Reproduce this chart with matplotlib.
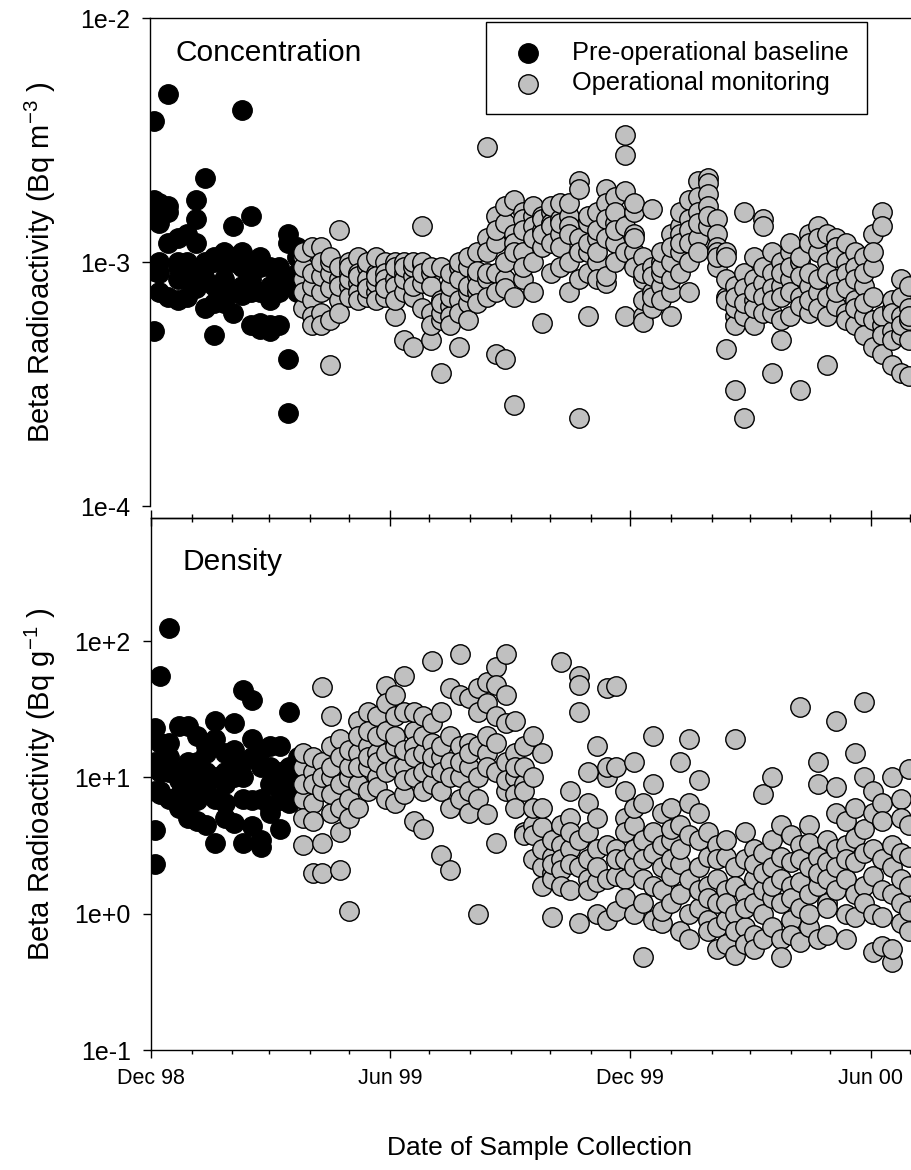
import numpy as np
import matplotlib
matplotlib.use("Agg")
import matplotlib.pyplot as plt
import matplotlib.dates as mdates
from matplotlib.ticker import FixedLocator, FuncFormatter, NullLocator, NullFormatter
from datetime import datetime

plt.rcParams['font.family'] = ['Liberation Sans', 'DejaVu Sans']
plt.rcParams['mathtext.fontset'] = 'custom'
plt.rcParams['mathtext.rm'] = 'Liberation Sans'
plt.rcParams['mathtext.it'] = 'Liberation Sans:italic'

# ---------------- data ----------------
# days after 1 Dec 1998
pre_day = [3, 3, 3, 3, 3, 7, 7, 7, 7, 7, 14, 14, 14, 14, 14, 21, 21, 21, 21, 21,
           28, 28, 28, 28, 28, 35, 35, 35, 35, 35, 42, 42, 42, 42, 42, 49, 49, 49, 49, 49,
           56, 56, 56, 56, 56, 63, 63, 63, 63, 63, 70, 70, 70, 70, 70, 77, 77, 77, 77, 77,
           84, 84, 84, 84, 84, 91, 91, 91, 91, 91, 98, 98, 98, 98, 98, 105, 105, 105, 105, 105,
           112, 112, 112, 112, 112]
# concentration, mBq m^-3
pre_conc_mBq = [0.52, 0.92, 3.8, 1.8, 1.5, 1.45, 1.75, 0.75, 1.0, 0.9,
                4.9, 1.6, 1.7, 0.72, 1.2, 1.25, 1.0, 0.95, 0.7, 0.85,
                1.0, 1.3, 0.72, 0.85, 0.95, 1.8, 1.5, 1.2, 0.9, 0.78,
                2.2, 1.0, 0.85, 0.65, 0.95, 0.5, 1.0, 0.68, 1.05, 0.8,
                1.0, 0.85, 1.1, 0.68, 0.72, 1.4, 1.0, 0.75, 0.62, 1.05,
                4.2, 1.1, 0.95, 0.8, 0.73, 1.55, 1.0, 0.55, 0.75, 0.85,
                1.05, 0.56, 0.53, 0.75, 0.95, 0.55, 0.8, 0.95, 0.7, 0.52,
                0.9, 0.55, 0.75, 0.78, 0.95, 1.3, 0.4, 0.24, 0.8, 1.2,
                1.15, 1.05, 0.85, 0.75, 0.9]
# density, Bq g^-1
pre_dens = [2.3, 4.1, 7.9, 23, 13, 55, 11, 8, 7.5, 18,
            125, 18, 11, 7, 14, 24, 9.5, 11, 7.4, 6,
            13, 6, 9, 5, 24, 20, 10, 4.8, 13, 6.8,
            17, 4.5, 11, 8, 15, 26, 7, 10, 3.3, 19,
            11, 15, 6.5, 9, 5, 25, 13, 4.6, 10, 16,
            10, 44, 13, 3.3, 7, 37, 19, 14, 6.8, 4.4,
            3.1, 3.5, 12, 16, 7, 5.5, 17, 9, 6, 12,
            4.2, 8, 11, 17, 6.8, 30, 12, 9.5, 6.5, 7.5,
            11, 9, 12, 14, 10]

op_dates = [116, 123, 130, 137, 144, 151, 158, 165, 172, 179, 186, 193, 200, 207, 214,
            221, 228, 235, 242, 249, 256, 263, 270, 277, 284, 291, 298, 305, 312, 319,
            326, 333, 340, 347, 354, 361, 368, 375, 382, 389, 396, 403, 410, 417, 424,
            431, 438, 445, 452, 459, 466, 473, 480, 487, 494, 501, 508, 515, 522, 529,
            536, 543, 550, 557, 564, 571, 577]
op_conc_mBq = [
    [1.05, 0.85, 0.65, 0.95, 0.75, 1.1], [0.7, 0.8, 1.15, 0.6, 0.9, 0.55],
    [1.15, 0.62, 0.55, 0.75, 0.88, 1.0], [0.78, 0.9, 1.0, 0.58, 0.38, 1.05],
    [1.35, 0.7, 0.85, 0.95, 0.62, 0.8], [0.9, 0.8, 0.72, 1.0, 0.85, 0.95],
    [0.82, 0.75, 1.05, 0.9, 0.7, 0.88], [0.8, 0.95, 0.85, 0.72, 1.0, 0.78],
    [0.75, 0.82, 0.9, 1.05, 0.88, 0.7], [0.8, 0.72, 1.0, 0.9, 0.85, 0.78],
    [1.0, 0.85, 0.8, 0.6, 0.95, 0.7], [0.9, 1.0, 0.75, 0.48, 0.85, 0.95],
    [0.45, 0.72, 0.88, 0.95, 0.8, 1.0], [0.98, 1.0, 0.65, 0.82, 1.4, 0.9],
    [0.9, 0.62, 0.48, 0.8, 0.95, 0.55], [0.58, 0.7, 0.62, 0.68, 0.95, 0.35],
    [0.66, 0.6, 0.72, 0.8, 0.55, 0.9], [0.95, 0.7, 0.62, 0.45, 0.85, 1.0],
    [0.68, 0.75, 0.58, 0.95, 0.8, 1.05], [0.75, 0.88, 1.1, 0.8, 0.68, 0.92],
    [1.25, 0.85, 0.9, 2.95, 1.1, 0.72], [1.55, 1.2, 0.42, 0.9, 0.75, 1.35],
    [1.45, 1.7, 0.4, 0.85, 1.0, 0.78], [0.26, 1.3, 1.8, 1.2, 0.72, 1.1],
    [1.6, 1.5, 1.35, 1.1, 0.85, 0.95], [1.55, 1.7, 1.4, 1.25, 1.0, 0.75],
    [1.55, 1.35, 1.5, 0.56, 1.15, 1.3], [1.6, 1.45, 1.7, 1.4, 0.9, 1.2],
    [1.5, 1.75, 1.3, 1.45, 0.95, 1.15], [1.55, 1.0, 0.75, 1.4, 1.3, 1.75],
    [2.15, 2.0, 1.25, 0.23, 0.85, 1.1], [1.1, 0.6, 1.45, 0.9, 1.55, 1.2],
    [1.25, 1.6, 1.0, 1.35, 0.85, 1.1], [2.0, 1.75, 0.82, 0.88, 1.5, 1.25],
    [1.85, 1.45, 1.2, 1.0, 1.6, 1.35], [3.3, 2.75, 1.95, 0.6, 1.4, 1.1],
    [1.6, 1.75, 1.3, 1.1, 0.95, 1.25], [0.6, 0.7, 0.57, 0.85, 1.05, 0.9],
    [0.65, 0.75, 0.95, 0.72, 0.88, 1.65], [0.8, 0.9, 1.0, 0.7, 0.95, 1.1],
    [1.3, 0.6, 0.75, 0.85, 1.0, 1.15], [1.4, 1.6, 1.3, 1.1, 0.9, 1.2],
    [1.8, 1.5, 1.35, 1.2, 0.75, 1.0], [2.15, 1.85, 1.6, 1.25, 1.45, 1.1],
    [2.2, 2.1, 1.9, 1.7, 1.4, 1.55], [1.5, 1.3, 1.15, 1.1, 0.95, 1.05],
    [1.1, 0.44, 0.72, 0.85, 1.05, 0.7], [0.3, 0.6, 0.55, 0.8, 0.65, 0.72],
    [0.23, 1.6, 0.9, 0.78, 0.6, 0.68], [0.55, 0.7, 0.85, 0.65, 1.05, 0.75],
    [1.5, 1.4, 0.82, 0.72, 0.62, 0.95], [0.35, 0.9, 0.78, 1.1, 0.62, 0.7],
    [0.8, 0.72, 1.0, 0.58, 0.9, 0.48], [1.1, 0.85, 0.6, 0.75, 0.95, 1.2],
    [1.0, 0.72, 0.88, 0.66, 1.05, 0.3], [1.3, 1.2, 0.8, 0.9, 0.62, 0.7],
    [1.4, 1.1, 0.75, 0.85, 0.65, 1.25], [1.0, 0.9, 0.72, 0.6, 1.3, 0.38],
    [1.25, 1.15, 0.85, 0.66, 0.75, 1.05], [1.2, 1.0, 0.9, 0.62, 0.78, 0.58],
    [1.1, 0.95, 0.7, 0.55, 0.85, 0.65], [1.05, 0.8, 0.6, 0.5, 0.9, 0.68],
    [1.3, 0.72, 0.45, 0.58, 0.95, 1.1], [1.6, 1.4, 0.55, 0.6, 0.5, 0.42],
    [0.65, 0.52, 0.38, 0.7, 0.62, 0.48], [0.85, 0.6, 0.35, 0.5, 0.72, 0.55],
    [0.65, 0.8, 0.58, 0.48, 0.34, 0.6]]
op_dens = [
    [12, 7, 3.2, 15, 9, 5], [11, 2.0, 6.5, 14, 4.8, 9],
    [46, 13, 8, 3.3, 10, 2.0], [28, 10, 5.5, 17, 7.5, 12],
    [19, 9, 6, 14, 4, 2.1], [10, 1.05, 7, 12, 5, 16],
    [26, 15, 9, 20, 6, 12], [30, 17, 12, 8, 22, 14],
    [28, 15, 10, 20, 8.5, 13], [47, 35, 22, 15, 7, 11],
    [40, 28, 17, 12, 6.5, 20], [55, 30, 12, 7.5, 16, 9.5],
    [22, 17, 10, 4.8, 14, 30], [28, 15, 11, 8, 20, 4.2],
    [72, 25, 18, 9, 12, 14], [30, 14, 8, 2.7, 17, 11],
    [45, 20, 13, 6, 10, 2.1], [80, 40, 17, 10, 13, 7],
    [38, 18, 12, 5.5, 15, 8], [45, 30, 1.0, 17, 10, 7],
    [50, 35, 15, 5.4, 12, 20], [65, 48, 28, 11, 3.3, 18],
    [80, 40, 25, 13, 8, 9.5], [26, 15, 10, 7.5, 12, 6],
    [17, 9, 4, 3.8, 8, 12], [20, 10, 4.5, 3.8, 2.5, 6],
    [15, 4.3, 2.2, 1.6, 3, 6], [2.0, 2.6, 1.8, 3.5, 0.95, 2.3],
    [70, 3.2, 2.5, 4.5, 2.1, 1.6], [8, 3, 2.3, 5, 1.5, 4],
    [55, 48, 30, 0.85, 3.5, 2.2], [11, 1.8, 2.5, 4, 1.5, 6.5],
    [17, 1.7, 3, 1.0, 2.2, 5], [45, 10, 3.2, 0.9, 1.8, 12],
    [47, 12, 3, 1.9, 1.05, 2.5], [5, 2.5, 1.8, 8, 1.3, 4],
    [13, 4.5, 2.2, 1.0, 6, 3], [0.48, 1.8, 3.5, 2.5, 6.5, 1.2],
    [20, 9, 4, 1.6, 2.8, 0.9], [2.2, 1.5, 3.2, 0.85, 5.5, 1.05],
    [3.5, 1.9, 6, 1.2, 2.5, 4.2], [13, 4.5, 2.3, 1.4, 0.75, 3],
    [1.0, 19, 1.8, 0.65, 3.8, 6.5], [9.5, 3.5, 2.2, 1.1, 1.5, 5.5],
    [4, 2.6, 1.6, 0.9, 0.75, 1.3], [3.2, 1.8, 1.2, 0.55, 2.5, 0.8],
    [2.6, 1.5, 0.6, 0.9, 1.2, 3.5], [19, 2.2, 1.6, 0.5, 1.0, 0.75],
    [4, 2.5, 1.4, 0.8, 0.6, 1.1], [3, 1.8, 1.2, 0.7, 2.3, 0.55],
    [7.5, 2.8, 1.5, 1.0, 0.65, 2.0], [10, 3.5, 2.2, 1.3, 0.8, 1.6],
    [4.5, 2.6, 1.2, 0.65, 1.8, 0.48], [1.6, 2.4, 0.9, 3.8, 0.7, 1.3],
    [33, 3.2, 1.7, 1.1, 2.5, 0.62], [4.5, 2.2, 1.4, 0.8, 3.3, 1.0],
    [13, 9, 2.6, 1.6, 0.65, 2.0], [2.4, 3.5, 1.2, 0.7, 1.8, 1.1],
    [26, 8.5, 5.5, 3, 1.5, 2.2], [4.8, 3.2, 1.8, 1.0, 0.65, 2.5],
    [15, 6, 3.6, 2.4, 1.4, 0.95], [36, 10, 4.2, 2.8, 1.6, 1.2],
    [8, 5.5, 3, 1.9, 1.0, 0.52], [6.5, 4.8, 2.5, 1.5, 0.95, 0.58],
    [10, 3.2, 2.2, 1.4, 0.44, 0.55], [7, 5, 2.8, 1.8, 1.2, 0.85],
    [11.5, 4.5, 2.6, 1.6, 0.75, 1.05]]

conc_ticks = [1e-4, 1e-3, 1e-2]
conc_ticklabels = ['1e-4', '1e-3', '1e-2']
dens_ticks = [1e-1, 1e0, 1e1, 1e2]
dens_ticklabels = ['1e-1', '1e+0', '1e+1', '1e+2']
start_date = datetime(1998, 12, 1)
end_date = datetime(2000, 7, 1)

# ---------------- prepare ----------------
base = mdates.date2num(start_date)
pre_x = base + np.array(pre_day, dtype=float)
pre_c = np.array(pre_conc_mBq) * 1e-3
pre_d = np.array(pre_dens, dtype=float)
counts = [len(r) for r in op_conc_mBq]
op_x = base + np.repeat(np.array(op_dates, dtype=float), counts)
op_c = np.concatenate([np.array(r, dtype=float) for r in op_conc_mBq]) * 1e-3
op_d = np.concatenate([np.array(r, dtype=float) for r in op_dens])

W, H = 911, 1170
fig = plt.figure(figsize=(W / 100, H / 100), dpi=100)
ax1 = fig.add_axes([150 / W, 1 - 506 / H, (910 - 150) / W, (506 - 18) / H])
ax2 = fig.add_axes([151 / W, 1 - 1050 / H, (910 - 151) / W, (1050 - 518) / H])

ms = 196
for ax, pv, ov in ((ax1, pre_c, op_c), (ax2, pre_d, op_d)):
    ax.scatter(pre_x, pv, s=ms, c='black', edgecolors='black', linewidths=1.0,
               label='Pre-operational baseline', zorder=3)
    ax.scatter(op_x, ov, s=ms, c='#c0c0c0', edgecolors='black', linewidths=1.0,
               label='Operational monitoring', zorder=4)
    ax.set_yscale('log')
    ax.set_xlim(mdates.date2num(start_date), mdates.date2num(end_date))
    ax.spines['right'].set_visible(False)
    for s in ax.spines.values():
        s.set_linewidth(1.0)
    ax.yaxis.set_minor_locator(NullLocator())
    ax.tick_params(axis='y', direction='out', length=6, width=1.0, labelsize=18, pad=8.5)

ax1.set_ylim(1e-4, 1e-2)
ax1.yaxis.set_major_locator(FixedLocator(conc_ticks))
ax1.yaxis.set_major_formatter(FuncFormatter(lambda v, p: dict(zip(conc_ticks, conc_ticklabels)).get(v, '')))
ax1.spines['bottom'].set_visible(False)
ax1.tick_params(axis='x', which='both', bottom=False, labelbottom=False)

ax2.set_ylim(0.1, 800)
ax2.yaxis.set_major_locator(FixedLocator(dens_ticks))
ax2.yaxis.set_major_formatter(FuncFormatter(lambda v, p: dict(zip(dens_ticks, dens_ticklabels)).get(v, '')))
ax2.xaxis.set_major_locator(mdates.MonthLocator(bymonth=[6, 12]))
ax2.xaxis.set_minor_locator(mdates.MonthLocator())
ax2.xaxis.set_major_formatter(mdates.DateFormatter('%b %y'))
ax2.tick_params(axis='x', which='major', direction='out', length=6, width=1.0, labelsize=15.5, pad=7)
ax2.tick_params(axis='x', which='minor', direction='out', length=3, width=1.0)

sec = ax2.secondary_xaxis('top')
sec.xaxis.set_major_locator(mdates.MonthLocator(bymonth=[6, 12]))
sec.xaxis.set_minor_locator(mdates.MonthLocator())
sec.xaxis.set_major_formatter(NullFormatter())
sec.tick_params(axis='x', which='major', direction='inout', length=12, width=1.0)
sec.tick_params(axis='x', which='minor', direction='inout', length=6, width=1.0)
sec.spines['top'].set_linewidth(1.0)

ax1.text(0.033, 0.928, 'Concentration', transform=ax1.transAxes, fontsize=21.5,
         ha='left', va='center')
ax2.text(0.042, 0.917, 'Density', transform=ax2.transAxes, fontsize=21.5,
         ha='left', va='center')

leg = ax1.legend(loc='upper left', bbox_to_anchor=(0.442, 0.992), frameon=True, fancybox=False,
                 edgecolor='black', framealpha=1, fontsize=18.3, scatterpoints=1,
                 handletextpad=0.82, borderpad=0.75, labelspacing=0.25, handlelength=1.8,
                 borderaxespad=0)
leg.get_frame().set_linewidth(1.0)

fig.text(40 / W, 1 - 262 / H, 'Beta Radioactivity (Bq m$^{-3}$ )', rotation=90,
         ha='center', va='center', fontsize=21)
fig.text(40 / W, 1 - 784 / H, 'Beta Radioactivity (Bq g$^{-1}$ )', rotation=90,
         ha='center', va='center', fontsize=21)
fig.text(540 / W, 1 - 1148 / H, 'Date of Sample Collection', ha='center', va='center',
         fontsize=19)

fig.savefig('out.png', dpi=100)
